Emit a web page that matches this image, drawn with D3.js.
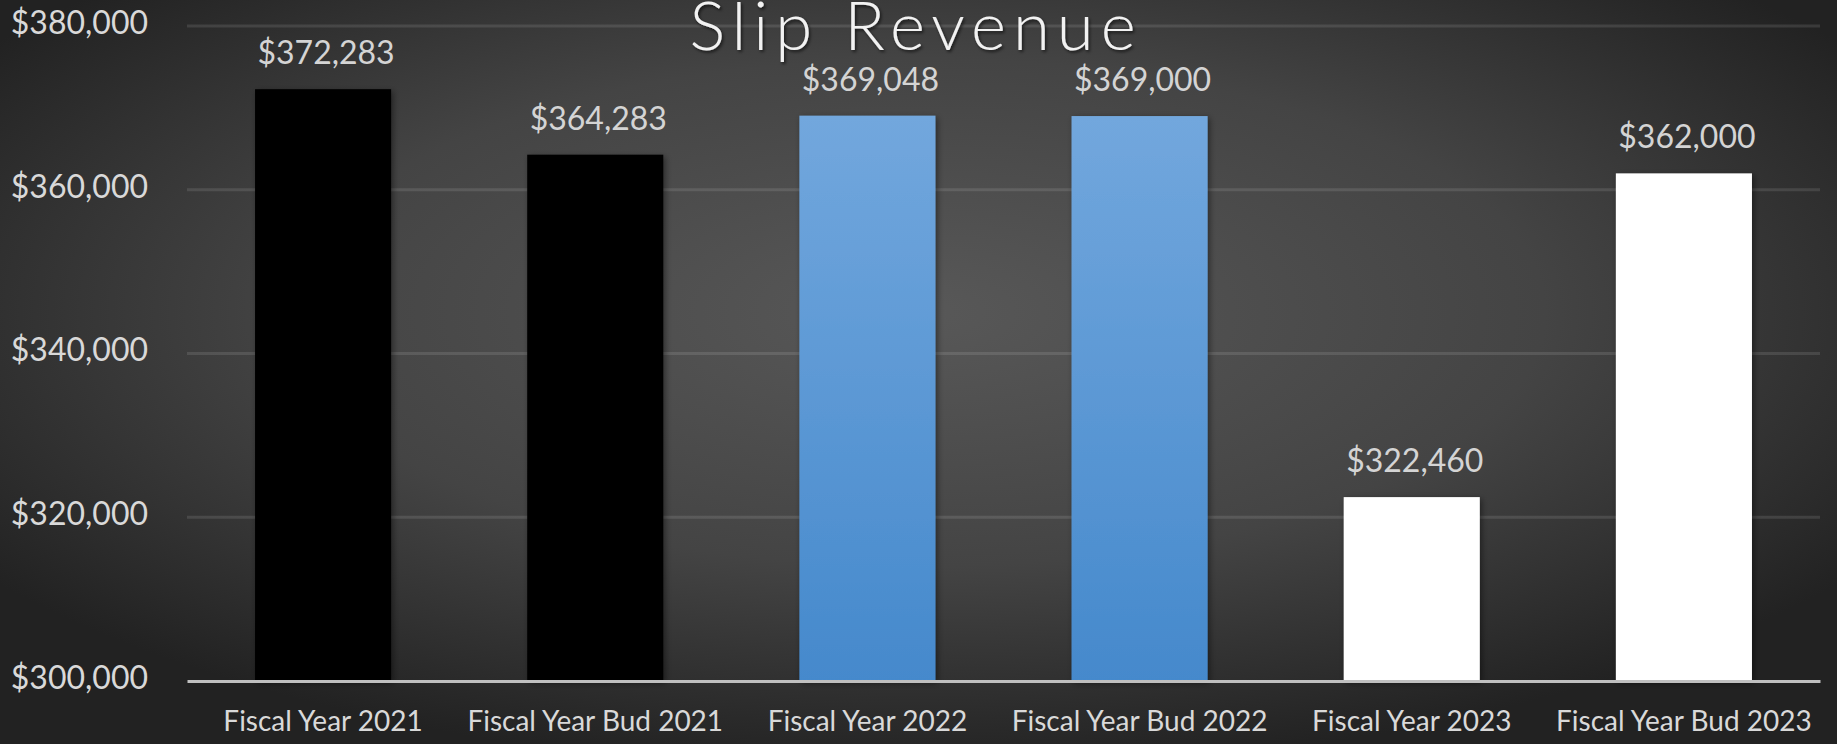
<!DOCTYPE html>
<html>
<head>
<meta charset="utf-8">
<script src="https://cdn.jsdelivr.net/npm/d3@7"></script>
<style>
  html, body { margin: 0; padding: 0; background: #2a2a2a; }
  svg { display: block; }
  text { font-family: Lato, "Open Sans", sans-serif; }
</style>
</head>
<body>
<svg id="chart" width="1837" height="744"></svg>
<script>
const categories = ["Fiscal Year 2021", "Fiscal Year Bud 2021", "Fiscal Year 2022", "Fiscal Year Bud 2022", "Fiscal Year 2023", "Fiscal Year Bud 2023"];
const values = [372283, 364283, 369048, 369000, 322460, 362000];
const fillKeys = ["black", "black", "blue", "blue", "white", "white"];
const yTicks = [300000, 320000, 340000, 360000, 380000];
const yDomain = [300000, 380000];
const title = "Slip Revenue";

const W = 1837, H = 744;
const margin = { left: 187, right: 17, top: 26, bottom: 63 };
const svg = d3.select("#chart");
const defs = svg.append("defs");

const bg = defs.append("radialGradient").attr("id", "bg")
  .attr("cx", "50%").attr("cy", "42%").attr("r", "62%")
  .attr("gradientUnits", "objectBoundingBox");
bg.append("stop").attr("offset", "0%").attr("stop-color", "#585858");
bg.append("stop").attr("offset", "55%").attr("stop-color", "#444444");
bg.append("stop").attr("offset", "100%").attr("stop-color", "#222222");

const blue = defs.append("linearGradient").attr("id", "blueGrad")
  .attr("x1", 0).attr("y1", 0).attr("x2", 0).attr("y2", 1);
blue.append("stop").attr("offset", "0%").attr("stop-color", "#72a7dd");
blue.append("stop").attr("offset", "100%").attr("stop-color", "#4589cc");

const shadow = defs.append("filter").attr("id", "shadow")
  .attr("x", "-10%").attr("y", "-10%").attr("width", "130%").attr("height", "130%");
shadow.append("feDropShadow").attr("dx", 2).attr("dy", 2).attr("stdDeviation", 3)
  .attr("flood-color", "#000").attr("flood-opacity", 0.45);

const tshadow = defs.append("filter").attr("id", "tshadow")
  .attr("x", "-5%").attr("y", "-20%").attr("width", "115%").attr("height", "150%");
tshadow.append("feDropShadow").attr("dx", 1.5).attr("dy", 2).attr("stdDeviation", 1.5)
  .attr("flood-color", "#000").attr("flood-opacity", 0.6);

const fills = { black: "#000000", blue: "url(#blueGrad)", white: "#ffffff" };

svg.append("rect").attr("width", W).attr("height", H).attr("fill", "url(#bg)");

const x = d3.scaleBand().domain(categories)
  .range([margin.left, W - margin.right]).paddingInner(0.5).paddingOuter(0.25);
const y = d3.scaleLinear().domain(yDomain).range([H - margin.bottom, margin.top]);

// gridlines
svg.append("g").selectAll("line").data(yTicks.filter(t => t !== yDomain[0])).join("line")
  .attr("x1", margin.left).attr("x2", W - margin.right)
  .attr("y1", d => y(d)).attr("y2", d => y(d))
  .attr("stroke", "rgba(255,255,255,0.11)").attr("stroke-width", 3);

// y axis labels
const yAxis = d3.axisLeft(y).tickValues(yTicks).tickSize(0).tickPadding(0)
  .tickFormat(d => "$" + d3.format(",")(d));
const gy = svg.append("g").attr("transform", `translate(148,-3)`).call(yAxis);
gy.select(".domain").remove();
gy.selectAll("text").attr("fill", "#d9d9d9").style("font-size", "32px")
  .style("font-family", "Lato, 'Open Sans', sans-serif");

// bars
svg.append("g").selectAll("rect").data(values).join("rect")
  .attr("x", (d, i) => x(categories[i]))
  .attr("width", x.bandwidth())
  .attr("y", d => y(d))
  .attr("height", d => y(yDomain[0]) - y(d))
  .attr("fill", (d, i) => fills[fillKeys[i]])
  .attr("filter", "url(#shadow)");

// x axis
const xAxis = d3.axisBottom(x).tickSize(0).tickPadding(0);
const gx = svg.append("g").attr("transform", `translate(0,${y(yDomain[0])})`).call(xAxis);
gx.select(".domain").attr("stroke", "#c0c0c0").attr("stroke-width", 3);
gx.selectAll("text").attr("fill", "#d9d9d9").attr("dy", null).attr("y", 50)
  .style("font-size", "28px").style("font-family", "Lato, 'Open Sans', sans-serif");

// data labels
svg.append("g").selectAll("text").data(values).join("text")
  .attr("x", (d, i) => x(categories[i]) + x.bandwidth() / 2 + 3)
  .attr("y", d => y(d) - 25)
  .attr("text-anchor", "middle")
  .attr("fill", "#d4d4d4")
  .style("font-size", "32px")
  .text(d => "$" + d3.format(",")(d));

// title
svg.append("text").attr("x", 916).attr("y", 50).attr("text-anchor", "middle")
  .attr("fill", "#f2f2f2").style("font-size", "67px").style("font-weight", 300)
  .style("letter-spacing", "7px").attr("filter", "url(#tshadow)")
  .text(title);
</script>
</body>
</html>
